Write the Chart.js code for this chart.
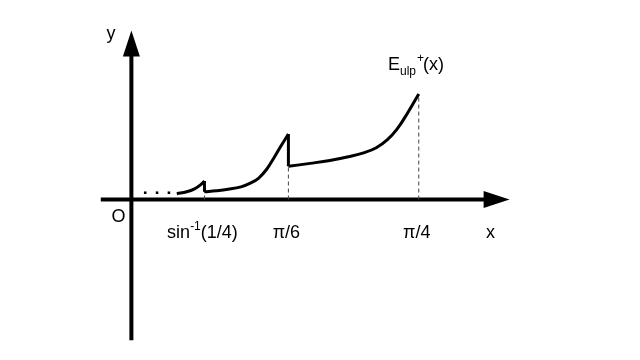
<!DOCTYPE html>
<html>
<head>
<meta charset="utf-8">
<script src="https://cdn.jsdelivr.net/npm/chart.js@4/dist/chart.umd.min.js"></script>
<style>
  html, body { margin: 0; padding: 0; background: #fff; }
  #wrap { width: 640px; height: 360px; }
</style>
</head>
<body>
<div id="wrap"><canvas id="c" width="640" height="360"></canvas></div>
<script>
// schematic units: origin at (0,0), one unit ~ 100px
const dotsX = [0.14, 0.26, 0.38];
const dotsY = [0.07, 0.07, 0.07];

const segAX = [0.46, 0.56, 0.64, 0.70, 0.74];
const segAY = [0.06, 0.08, 0.11, 0.15, 0.19];

const segBX = [0.74, 0.86, 0.98, 1.11, 1.21, 1.29, 1.37, 1.44, 1.51, 1.59];
const segBY = [0.08, 0.09, 0.105, 0.13, 0.17, 0.22, 0.31, 0.42, 0.54, 0.67];

const segCX = [1.59, 1.81, 2.01, 2.21, 2.36, 2.48, 2.59, 2.69, 2.80, 2.91];
const segCY = [0.34, 0.37, 0.40, 0.44, 0.48, 0.53, 0.61, 0.72, 0.89, 1.08];

// tick marks on x axis (dashed guides up to curve)
const tickX = [0.74, 1.59, 2.91];
const tickTop = [0.19, 0.67, 1.08];
const tickLabels = [['sin', '-1', '(1/4)'], ['π/6'], ['π/4']];

const pts = (xs, ys) => xs.map((x, i) => ({ x: x, y: ys[i] }));

const line = (data, extra) => Object.assign({
  data: data,
  showLine: true,
  borderColor: '#000',
  borderWidth: 3,
  pointRadius: 0,
  tension: 0.4,
  fill: false
}, extra || {});

const datasets = [
  { data: pts(dotsX, dotsY), showLine: false, pointStyle: 'rect', pointRadius: 1.8,
    backgroundColor: '#000', borderColor: '#000', borderWidth: 0 },
  line(pts(segAX, segAY)),
  line(pts(segBX, segBY)),
  line(pts(segCX, segCY)),
  line([{ x: segAX[4], y: segAY[4] }, { x: segBX[0], y: segBY[0] }], { tension: 0 }),
  line([{ x: segBX[9], y: segBY[9] }, { x: segCX[0], y: segCY[0] }], { tension: 0 })
];
tickX.forEach((x, i) => {
  datasets.push(line([{ x: x, y: 0 }, { x: x, y: tickTop[i] }],
    { borderWidth: 1, borderColor: '#444', borderDash: [4, 3], tension: 0 }));
});

// axes with arrows and labels
const axesPlugin = {
  id: 'axes',
  beforeDatasetsDraw(chart) {
    const { ctx, scales: { x, y } } = chart;
    const x0 = x.getPixelForValue(0), y0 = y.getPixelForValue(0);
    ctx.save();
    ctx.fillStyle = '#000';
    ctx.strokeStyle = '#000';
    ctx.lineWidth = 4;
    ctx.beginPath();
    ctx.moveTo(x.getPixelForValue(-0.31), y0);
    ctx.lineTo(x.getPixelForValue(3.60), y0);
    ctx.moveTo(x0, y.getPixelForValue(-1.44));
    ctx.lineTo(x0, y.getPixelForValue(1.50));
    ctx.stroke();
    // x arrow
    const xt = x.getPixelForValue(3.83);
    ctx.beginPath();
    ctx.moveTo(xt, y0);
    ctx.lineTo(xt - 26, y0 - 8.5);
    ctx.lineTo(xt - 26, y0 + 8.5);
    ctx.closePath();
    ctx.fill();
    // y arrow
    const yt = y.getPixelForValue(1.73);
    ctx.beginPath();
    ctx.moveTo(x0, yt);
    ctx.lineTo(x0 - 8.5, yt + 26);
    ctx.lineTo(x0 + 8.5, yt + 26);
    ctx.closePath();
    ctx.fill();
    ctx.restore();
  },
  afterDatasetsDraw(chart) {
    const { ctx, scales: { x, y } } = chart;
    const x0 = x.getPixelForValue(0), y0 = y.getPixelForValue(0);
    ctx.save();
    ctx.fillStyle = '#000';
    ctx.textBaseline = 'alphabetic';
    const big = '18px "Liberation Sans", Arial, sans-serif';
    const small = '12px "Liberation Sans", Arial, sans-serif';

    // draws parts [text, sup?, text...] centred at cx
    const drawParts = (parts, cx, base) => {
      const spec = parts.map((p, i) => ({ t: p, sup: parts.length > 1 && i === 1 }));
      let w = 0;
      spec.forEach(s => { ctx.font = s.sup ? small : big; s.w = ctx.measureText(s.t).width; w += s.w; });
      let cur = cx - w / 2;
      spec.forEach(s => {
        ctx.font = s.sup ? small : big;
        ctx.fillText(s.t, cur, s.sup ? base - 8 : base);
        cur += s.w;
      });
    };
    tickX.forEach((tx, i) => drawParts(tickLabels[i], x.getPixelForValue(tx) - 2, y0 + 38));

    ctx.font = big;
    ctx.textAlign = 'left';
    ctx.fillText('x', x.getPixelForValue(3.59), y0 + 38);
    ctx.fillText('y', x0 - 25, y.getPixelForValue(1.64));
    ctx.fillText('O', x0 - 20, y0 + 22);

    // E_ulp^+(x)
    let cx = 388, base = 70;
    ctx.font = big;
    ctx.fillText('E', cx, base); cx += ctx.measureText('E').width;
    ctx.font = small;
    ctx.fillText('ulp', cx, base + 5); cx += ctx.measureText('ulp').width + 1;
    ctx.fillText('+', cx, base - 8); cx += ctx.measureText('+').width - 1;
    ctx.font = big;
    ctx.fillText('(x)', cx, base);
    ctx.restore();
  }
};

new Chart(document.getElementById('c'), {
  type: 'scatter',
  data: { datasets: datasets },
  options: {
    responsive: false,
    animation: false,
    layout: { padding: 0 },
    plugins: { legend: { display: false }, tooltip: { enabled: false } },
    scales: {
      x: { type: 'linear', display: false, min: -1.29, max: 5.11 },
      y: { type: 'linear', display: false, min: -1.60, max: 2.00 }
    }
  },
  plugins: [axesPlugin]
});
</script>
</body>
</html>
